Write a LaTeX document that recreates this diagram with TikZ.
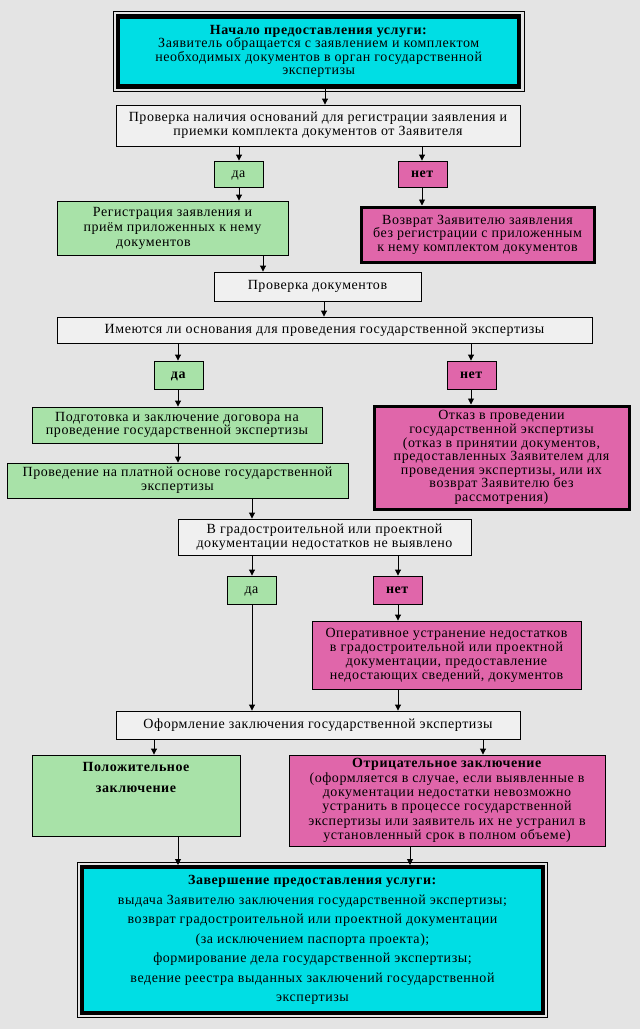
\documentclass[tikz,border=0pt]{standalone}
\usepackage{fontspec}
\setmainfont{Liberation Serif}[LetterSpace=4]
\usetikzlibrary{arrows.meta}
\definecolor{bg}{HTML}{E4E4E4}
\definecolor{plain}{HTML}{F0F0F0}
\definecolor{grn}{HTML}{A8E2A8}
\definecolor{pnk}{HTML}{E066AA}
\definecolor{cyn}{HTML}{00DEE4}
\begin{document}
\begin{tikzpicture}[x=1pt,y=-1pt,
  bx/.style={draw=black, line width=0.9pt, inner sep=1pt, align=center,
    font=\fontsize{14}{13.6}\selectfont},
  oneline/.style={text height=9pt, text depth=3pt},
  plainbox/.style={bx, fill=plain},
  greenbox/.style={bx, fill=grn},
  pinkbox/.style={bx, fill=pnk},
  heavybox/.style={bx, fill=pnk, line width=3pt},
  cyanbox/.style={bx, fill=cyn, line width=4.5pt},
  arr/.style={-{Triangle[length=6pt,width=6pt]}, line width=0.9pt},
  frame/.style={line width=0.8pt}]
\useasboundingbox[fill=bg] (0,0) rectangle (640,1029);

% ---------- nodes ----------
\node[cyanbox, minimum width=401, minimum height=70] (start) at (318.7,51.5)
  {\textbf{Начало предоставления услуги:}\\Заявитель обращается с заявлением и комплектом\\необходимых документов в орган государственной\\экспертизы};
\draw[frame] ([xshift=-2.5pt,yshift=2.5pt]start.north west) rectangle ([xshift=2.5pt,yshift=-2.5pt]start.south east);

\node[plainbox, minimum width=404, minimum height=41, font=\fontsize{14}{14.2}\selectfont] (check1) at (318,125.5)
  {Проверка наличия оснований для регистрации заявления и\\приемки комплекта документов от Заявителя};

\node[greenbox, oneline, minimum width=49, minimum height=26] (yes1) at (238.5,174) {да};
\node[pinkbox, oneline, minimum width=49, minimum height=26] (no1) at (422.5,174) {\textbf{нет}};

\node[greenbox, minimum width=231, minimum height=54, font=\fontsize{14}{15}\selectfont] (reg) at (172.5,228)
  {Регистрация заявления и\\приём приложенных к нему\\документов\hspace*{38pt}};
\node[heavybox, minimum width=233, minimum height=55] (ret) at (477.5,234.5)
  {Возврат Заявителю заявления\\без регистрации с приложенным\\к нему комплектом документов};

\node[plainbox, oneline, minimum width=207, minimum height=29] (docs) at (317.5,286.5)
  {Проверка документов};

\node[plainbox, oneline, minimum width=535, minimum height=26] (grounds) at (324.5,330)
  {Имеются ли основания для проведения государственной экспертизы};

\node[greenbox, oneline, minimum width=49, minimum height=28] (yes2) at (178.5,375) {\textbf{да}};
\node[pinkbox, oneline, minimum width=49, minimum height=28] (no2) at (471.5,375) {\textbf{нет}};

\node[greenbox, minimum width=290, minimum height=36, font=\fontsize{14}{13}\selectfont] (prep) at (177,425)
  {Подготовка и заключение договора на\\проведение государственной экспертизы};
\node[heavybox, minimum width=255, minimum height=103] (refuse) at (501.5,457.5)
  {Отказ в проведении\\государственной экспертизы\\(отказ в принятии документов,\\предоставленных Заявителем для\\проведения экспертизы, или их\\возврат Заявителю без\\рассмотрения)};

\node[greenbox, minimum width=341, minimum height=35, font=\fontsize{14}{14}\selectfont] (paid) at (177.5,480.5)
  {Проведение на платной основе государственной\\экспертизы};

\node[plainbox, minimum width=293, minimum height=36] (defects) at (324.5,537)
  {В градостроительной или проектной\\документации недостатков не выявлено};

\node[greenbox, oneline, minimum width=49, minimum height=28] (yes3) at (251.5,590) {да};
\node[pinkbox, oneline, minimum width=49, minimum height=28] (no3) at (397.5,590) {\textbf{нет}};

\node[pinkbox, minimum width=269, minimum height=68, font=\fontsize{14}{14}\selectfont] (fix) at (446.5,655)
  {Оперативное устранение недостатков\\в градостроительной или проектной\\документации, предоставление\\недостающих сведений, документов};

\node[plainbox, oneline, minimum width=404, minimum height=28] (issue) at (318,725)
  {Оформление заключения государственной экспертизы};

\node[greenbox, minimum width=208, minimum height=81] (pos) at (136,795.5) {};
\node[align=center, inner sep=0pt, font=\fontsize{14}{21}\selectfont\bfseries, anchor=north] (posT) at (136,762)
  {Положительное\\заключение};

\node[pinkbox, minimum width=316, minimum height=91, font=\fontsize{14}{14.4}\selectfont] (neg) at (447,800.5)
  {\textbf{Отрицательное заключение}\\(оформляется в случае, если выявленные в\\документации недостатки невозможно\\устранить в процессе государственной\\экспертизы или заявитель их не устранил в\\установленный срок в полном объеме)};

\node[cyanbox, line width=4pt, minimum width=461, minimum height=146, font=\fontsize{14}{19.5}\selectfont] (final) at (312.5,940)
  {\textbf{Завершение предоставления услуги:}\\выдача Заявителю заключения государственной экспертизы;\\возврат градостроительной или проектной документации\\(за исключением паспорта проекта);\\формирование дела государственной экспертизы;\\ведение реестра выданных заключений государственной\\экспертизы};
\draw[frame] ([xshift=-2.5pt,yshift=2.5pt]final.north west) rectangle ([xshift=2.5pt,yshift=-2.5pt]final.south east);

% ---------- connector x positions ----------
\coordinate (x154) at (154,0);
\coordinate (x178) at (178,0);
\coordinate (x239) at (239,0);
\coordinate (x252) at (252,0);
\coordinate (x263) at (263,0);
\coordinate (x324) at (324,0);
\coordinate (x325) at (325,0);
\coordinate (x398) at (398,0);
\coordinate (x410) at (410,0);
\coordinate (x422) at (422,0);
\coordinate (x471) at (471,0);
\coordinate (x483) at (483,0);

% ---------- connectors ----------
\draw[arr] (start.south -| x325) -- (check1.north -| x325);
\draw[arr] (check1.south -| x239) -- (yes1.north -| x239);
\draw[arr] (check1.south -| x422) -- (no1.north -| x422);
\draw[arr] (yes1.south -| x239) -- (reg.north -| x239);
\draw[arr] (no1.south -| x422) -- (ret.north -| x422);
\draw[arr] (reg.south -| x263) -- (docs.north -| x263);
\draw[arr] (docs.south -| x324) -- (grounds.north -| x324);
\draw[arr] (grounds.south -| x178) -- (yes2.north -| x178);
\draw[arr] (grounds.south -| x471) -- (no2.north -| x471);
\draw[arr] (yes2.south -| x178) -- (prep.north -| x178);
\draw[arr] (no2.south -| x471) -- (refuse.north -| x471);
\draw[arr] (prep.south -| x178) -- (paid.north -| x178);
\draw[arr] (paid.south -| x252) -- (defects.north -| x252);
\draw[arr] (defects.south -| x252) -- (yes3.north -| x252);
\draw[arr] (defects.south -| x398) -- (no3.north -| x398);
\draw[arr] (no3.south -| x398) -- (fix.north -| x398);
\draw[arr] (yes3.south -| x252) -- (issue.north -| x252);
\draw[arr] (fix.south -| x398) -- (issue.north -| x398);
\draw[arr] (issue.south -| x154) -- (pos.north -| x154);
\draw[arr] (issue.south -| x483) -- (neg.north -| x483);
\draw[arr] (pos.south -| x178) -- (final.north -| x178);
\draw[arr] (neg.south -| x410) -- (final.north -| x410);
\end{tikzpicture}
\end{document}
